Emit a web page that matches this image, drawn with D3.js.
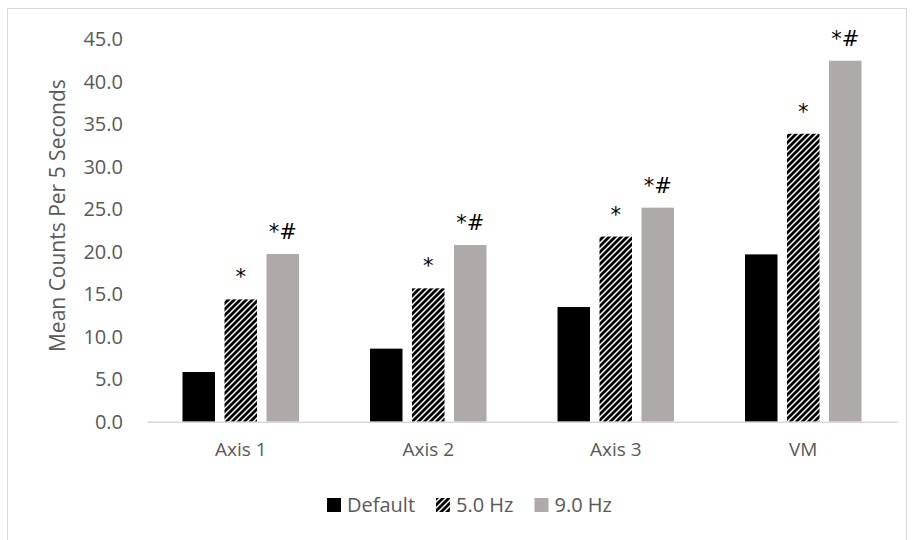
<!DOCTYPE html>
<html>
<head>
<meta charset="utf-8">
<script src="https://cdn.jsdelivr.net/npm/d3@7"></script>
<style>
  html, body { margin: 0; padding: 0; background: #fff; }
  svg { display: block; font-family: "Open Sans", "Noto Sans", sans-serif; }
</style>
</head>
<body>
<svg id="chart" width="914" height="540"></svg>
<script>
// Activity counts by accelerometer axis and vibration setting
const categories = ["Axis 1", "Axis 2", "Axis 3", "VM"];
const seriesNames = ["Default", "5.0 Hz", "9.0 Hz"];
const defaultValues = [5.85, 8.6, 13.5, 19.7];
const hz5Values = [14.4, 15.7, 21.8, 33.9];
const hz9Values = [19.75, 20.8, 25.2, 42.5];
// significance markers shown above each bar
const defaultMarks = ["", "", "", ""];
const hz5Marks = ["*", "*", "*", "*"];
const hz9Marks = ["*#", "*#", "*#", "*#"];
const yTicks = [0, 5, 10, 15, 20, 25, 30, 35, 40, 45];
const yTitle = "Mean Counts Per 5 Seconds";

const seriesValues = [defaultValues, hz5Values, hz9Values];
const seriesMarks = [defaultMarks, hz5Marks, hz9Marks];

const svg = d3.select("#chart");

// hatch for the 5.0 Hz series
const defs = svg.append("defs");
const pat = defs.append("pattern")
  .attr("id", "hatch")
  .attr("patternUnits", "userSpaceOnUse")
  .attr("width", 6).attr("height", 6);
pat.append("rect").attr("width", 6).attr("height", 6).attr("fill", "#fff");
pat.append("path")
  .attr("d", "M-1,1 l2,-2 M0,6 l6,-6 M5,7 l2,-2")
  .attr("stroke", "#000").attr("stroke-width", 2.8);

const fills = ["#000000", "url(#hatch)", "#AEAAAA"];

// chart frame
svg.append("rect")
  .attr("x", 7.5).attr("y", 8.5)
  .attr("width", 899).attr("height", 560)
  .attr("fill", "none").attr("stroke", "#d9d9d9").attr("stroke-width", 1);

const plot = { left: 147, right: 897, top: 39.5, bottom: 421.7 };

const y = d3.scaleLinear().domain([0, 45]).range([plot.bottom, plot.top]);
const x0 = d3.scaleBand().domain(categories).range([plot.left, plot.right]);
const groupWidth = 116.5;
const x1 = d3.scaleBand().domain(seriesNames).range([0, groupWidth]).paddingInner(0.226);
const groupOffset = (x0.bandwidth() - groupWidth) / 2;

// y axis labels (no axis line, no tick marks)
const yAxis = d3.axisLeft(y).tickValues(yTicks).tickFormat(d3.format(".1f")).tickSize(0).tickPadding(24);
const yG = svg.append("g").attr("transform", `translate(${plot.left},0)`).call(yAxis);
yG.select(".domain").remove();
yG.selectAll("text")
  .attr("fill", "#595959")
  .style("font-size", "20px")
  .style("font-family", "'Open Sans', sans-serif");

// y axis title
svg.append("text")
  .attr("transform", `translate(65,${(plot.top + plot.bottom) / 2 - 15}) rotate(-90)`)
  .attr("text-anchor", "middle")
  .attr("fill", "#595959")
  .style("font-size", "21px")
  .text(yTitle);

// bars
const rows = [];
seriesNames.forEach((s, si) => {
  categories.forEach((c, ci) => {
    rows.push({ series: s, si, cat: c, value: seriesValues[si][ci], mark: seriesMarks[si][ci] });
  });
});

const barG = svg.append("g");
barG.selectAll("rect")
  .data(rows)
  .join("rect")
  .attr("x", d => x0(d.cat) + groupOffset + x1(d.series))
  .attr("y", d => y(d.value))
  .attr("width", x1.bandwidth())
  .attr("height", d => y(0) - y(d.value))
  .attr("fill", d => fills[d.si]);

// significance markers
barG.selectAll("text")
  .data(rows.filter(d => d.mark))
  .join("text")
  .attr("x", d => x0(d.cat) + groupOffset + x1(d.series) + x1.bandwidth() / 2)
  .attr("y", d => y(d.value) - 15)
  .attr("text-anchor", "middle")
  .attr("fill", "#000")
  .style("font-family", "'DejaVu Sans', sans-serif")
  .style("font-size", "21px")
  .text(d => d.mark);

// x axis
const xAxis = d3.axisBottom(x0).tickSize(0).tickPadding(21);
const xG = svg.append("g").attr("transform", `translate(0,${plot.bottom})`).call(xAxis);
xG.select(".domain").attr("stroke", "#d9d9d9").attr("stroke-width", 1.5);
xG.selectAll("text")
  .attr("fill", "#595959")
  .style("font-size", "19px")
  .style("font-family", "'Open Sans', sans-serif");

// legend
const legend = svg.append("g").attr("transform", "translate(327,505)");
let lx = 0;
seriesNames.forEach((s, i) => {
  const item = legend.append("g").attr("transform", `translate(${lx},0)`);
  item.append("rect").attr("x", 0).attr("y", -7).attr("width", 14).attr("height", 14)
    .attr("fill", fills[i]);
  const t = item.append("text").attr("x", 20).attr("y", 0).attr("dy", "0.35em")
    .attr("fill", "#595959").style("font-size", "20px").text(s);
  lx += 20 + t.node().getComputedTextLength() + 21;
});
</script>
</body>
</html>
